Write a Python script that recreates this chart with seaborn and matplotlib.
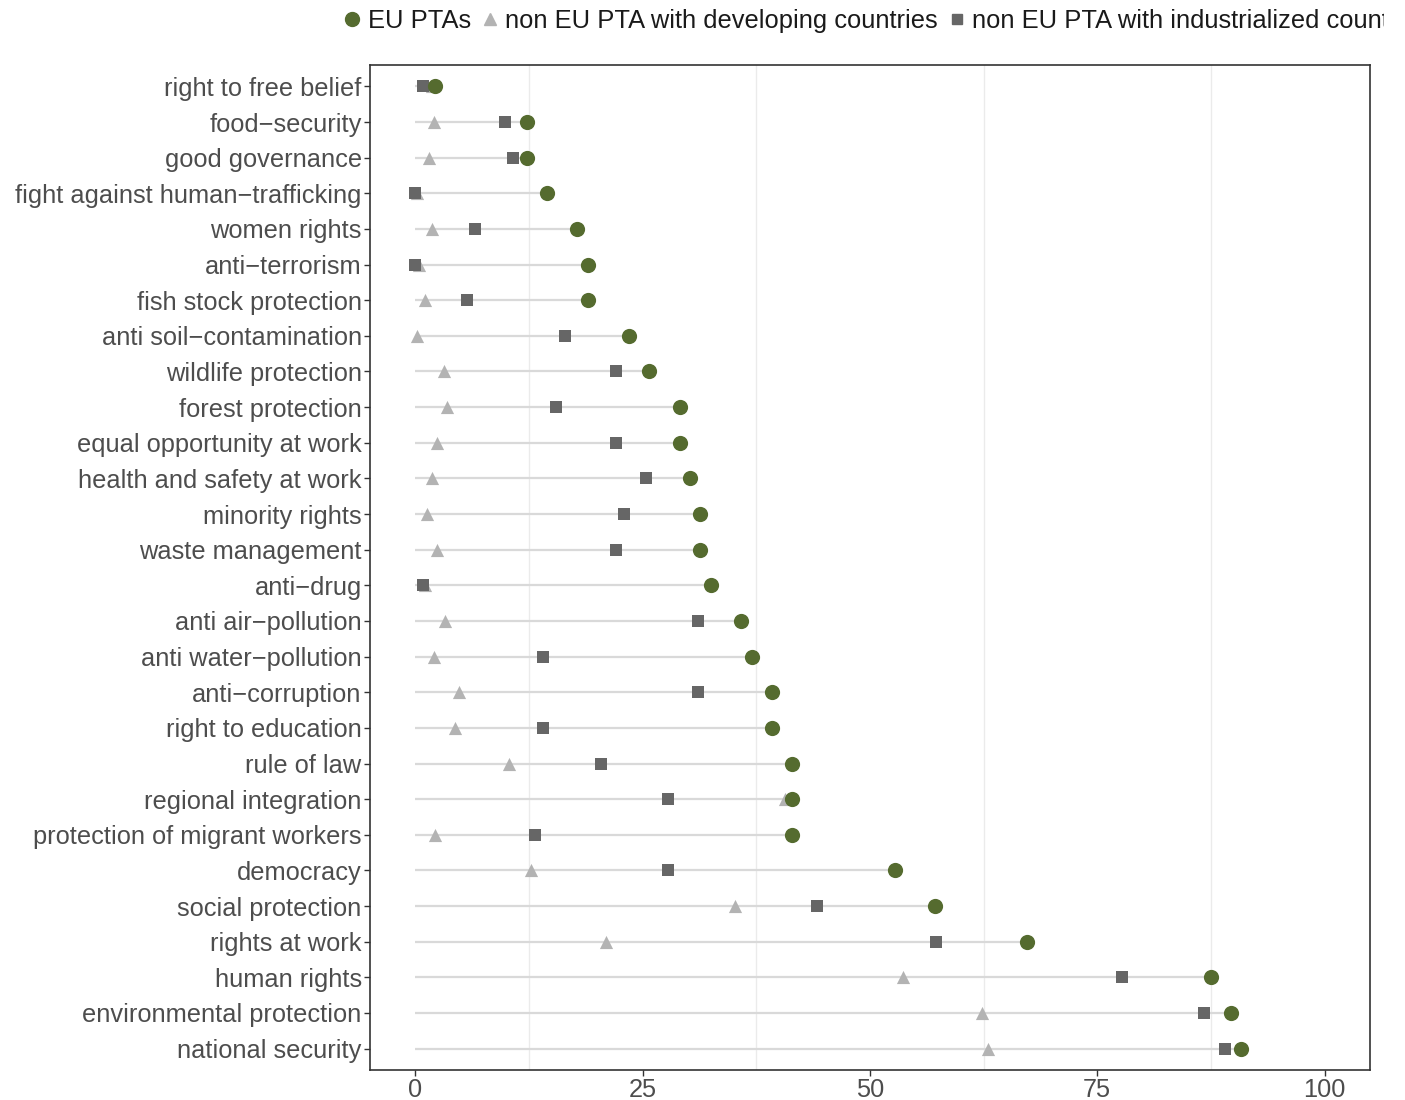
import numpy as np
import pandas as pd
import matplotlib
matplotlib.use("Agg")
import matplotlib.pyplot as plt
from matplotlib.lines import Line2D
from matplotlib.transforms import Bbox, TransformedBbox
import seaborn as sns

categories = [
    "right to free belief", "food\u2212security", "good governance",
    "fight against human\u2212trafficking", "women rights", "anti\u2212terrorism",
    "fish stock protection", "anti soil\u2212contamination", "wildlife protection",
    "forest protection", "equal opportunity at work", "health and safety at work",
    "minority rights", "waste management", "anti\u2212drug", "anti air\u2212pollution",
    "anti water\u2212pollution", "anti\u2212corruption", "right to education",
    "rule of law", "regional integration", "protection of migrant workers",
    "democracy", "social protection", "rights at work", "human rights",
    "environmental protection", "national security",
]
eu_ptas = [2.2, 12.3, 12.3, 14.5, 17.8, 19.0, 19.0, 23.5, 25.7, 29.1, 29.1, 30.2,
           31.3, 31.3, 32.5, 35.8, 37.0, 39.2, 39.2, 41.4, 41.4, 41.4, 52.7, 57.1,
           67.3, 87.5, 89.7, 90.8]
non_eu_dev = [1.8, 2.0, 1.5, 0.2, 1.8, 0.4, 1.1, 0.2, 3.1, 3.5, 2.4, 1.8,
              1.3, 2.4, 1.1, 3.3, 2.0, 4.8, 4.4, 10.3, 40.7, 2.2, 12.7, 35.1,
              21.0, 53.6, 62.3, 63.0]
non_eu_ind = [0.8, 9.8, 10.7, 0.0, 6.6, 0.0, 5.7, 16.4, 22.1, 15.5, 22.1, 25.4,
              22.9, 22.1, 0.8, 31.1, 14.0, 31.1, 14.0, 20.4, 27.8, 13.1, 27.8, 44.2,
              57.3, 77.7, 86.7, 89.1]
series_names = ["EU PTAs", "non EU PTA with developing countries",
                "non EU PTA with industrialized countries"]
x_ticks = [0, 25, 50, 75, 100]

pos = np.arange(len(categories))
df = pd.concat([
    pd.DataFrame({"topic": categories, "pos": pos, "value": non_eu_dev, "group": series_names[1]}),
    pd.DataFrame({"topic": categories, "pos": pos, "value": non_eu_ind, "group": series_names[2]}),
    pd.DataFrame({"topic": categories, "pos": pos, "value": eu_ptas, "group": series_names[0]}),
], ignore_index=True)

sns.set_theme(style="white")
plt.rcParams["font.family"] = ["Liberation Sans", "DejaVu Sans"]

fig = plt.figure(figsize=(14.05, 11.0), dpi=100)
ax = fig.add_axes([370 / 1405, 1 - 1070 / 1100, 1000 / 1405, 1005 / 1100])

colors = {series_names[0]: "#556B2F", series_names[1]: "#B3B3B3", series_names[2]: "#666666"}
markers = {series_names[0]: "o", series_names[1]: "^", series_names[2]: "s"}
sizes = {series_names[0]: 120, series_names[1]: 90, series_names[2]: 85}

# minor grid lines
for g in [12.5, 37.5, 62.5, 87.5]:
    ax.axvline(g, color="#EBEBEB", lw=1.0, zorder=0)

# segments from 0 to EU value
ax.hlines(pos, 0, eu_ptas, color="#D9D9D9", lw=1.6, zorder=1)

for i, name in enumerate([series_names[1], series_names[2], series_names[0]]):
    sub = df[df["group"] == name]
    sns.scatterplot(data=sub, x="value", y="pos", color=colors[name],
                    marker=markers[name], s=sizes[name], linewidth=0,
                    ax=ax, zorder=3 + i, legend=False)

ax.set_xlim(-5, 105)
ax.set_ylim(len(categories) - 1 + 0.6, -0.6)
ax.set_yticks(pos)
ax.set_yticklabels(categories)
ax.set_xticks(x_ticks)
ax.set_xticklabels([str(t) for t in x_ticks])
ax.set_xlabel("")
ax.set_ylabel("")
ax.tick_params(axis="both", labelsize=18.3, labelcolor="#4D4D4D", length=4,
               width=1, color="#333333", direction="out", left=True, bottom=True,
               pad=2)
for sp in ax.spines.values():
    sp.set_visible(True)
    sp.set_color("#333333")
    sp.set_linewidth(1.2)

handles = [
    Line2D([], [], ls="", marker="o", color=colors[series_names[0]], markersize=10),
    Line2D([], [], ls="", marker="^", color=colors[series_names[1]], markersize=8),
    Line2D([], [], ls="", marker="s", color=colors[series_names[2]], markersize=7),
]
leg = fig.legend(handles, series_names, loc="center left",
                 bbox_to_anchor=(342 / 1405, 1 - 21 / 1100), ncol=3, frameon=False,
                 fontsize=18.4, handlelength=0.8, handletextpad=0.2, columnspacing=0.35,
                 borderaxespad=0, borderpad=0)
clip = TransformedBbox(Bbox([[0, 0], [1384 / 1405, 1]]), fig.transFigure)
for t in leg.get_texts():
    t.set_color("#1A1A1A")
    t.set_clip_on(True)
    t.set_clip_box(clip)

fig.savefig("out.png", dpi=100)
